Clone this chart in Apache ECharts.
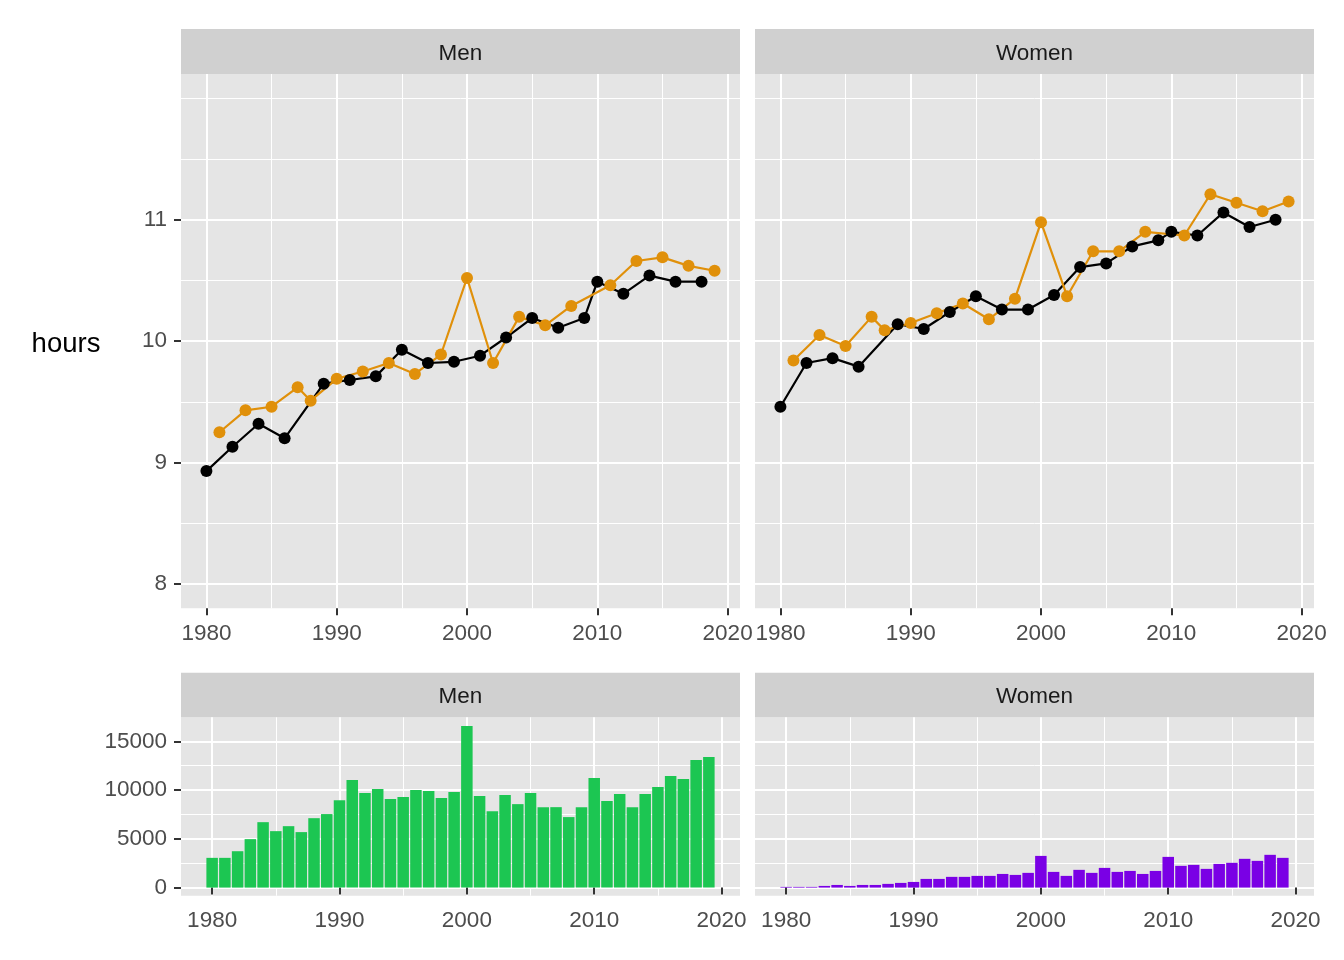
<!DOCTYPE html>
<html><head><meta charset="utf-8">
<script src="https://cdn.jsdelivr.net/npm/echarts@6/dist/echarts.min.js"></script>
<style>html,body{margin:0;padding:0;background:#fff}#c{width:1344px;height:960px}</style>
</head><body><div id="c"></div>
<script>
// ---------- data ----------
const panels = ['Men', 'Women'];
const yearsA = [1980,1982,1984,1986,1989,1991,1993,1995,1997,1999,2001,2003,2005,2007,2009,2010,2012,2014,2016,2018];
const yearsB = [1981,1983,1985,1987,1988,1990,1992,1994,1996,1998,2000,2002,2004,2006,2008,2011,2013,2015,2017,2019];
const menHoursA   = [8.93,9.13,9.32,9.20,9.65,9.68,9.71,9.93,9.82,9.83,9.88,10.03,10.19,10.11,10.19,10.49,10.39,10.54,10.49,10.49];
const menHoursB   = [9.25,9.43,9.46,9.62,9.51,9.69,9.75,9.82,9.73,9.89,10.52,9.82,10.20,10.13,10.29,10.46,10.66,10.69,10.62,10.58];
const womenHoursA = [9.46,9.82,9.86,9.79,10.14,10.10,10.24,10.37,10.26,10.26,10.38,10.61,10.64,10.78,10.83,10.90,10.87,11.06,10.94,11.00];
const womenHoursB = [9.84,10.05,9.96,10.20,10.09,10.15,10.23,10.31,10.18,10.35,10.98,10.37,10.74,10.74,10.90,10.87,11.21,11.14,11.07,11.15];
const barYears = [1980,1981,1982,1983,1984,1985,1986,1987,1988,1989,
                  1990,1991,1992,1993,1994,1995,1996,1997,1998,1999,
                  2000,2001,2002,2003,2004,2005,2006,2007,2008,2009,
                  2010,2011,2012,2013,2014,2015,2016,2017,2018,2019];
const menCounts = [3050,3050,3730,4970,6710,5790,6300,5690,7120,7540,
                   8970,11030,9690,10100,9080,9280,10000,9900,9180,9800,
                   16580,9390,7840,9490,8560,9690,8250,8250,7230,8250,
                   11230,8870,9590,8250,9590,10310,11440,11130,13080,13390];
const womenCounts = [70,70,70,170,270,170,270,270,380,480,
                     580,890,890,1100,1100,1200,1200,1400,1300,1510,
                     3250,1610,1200,1820,1510,2020,1610,1710,1400,1710,
                     3150,2230,2330,1920,2430,2540,2950,2740,3360,3050];
const xMajorTicks = [1980,1990,2000,2010,2020];
const xMinorTicks = [1985,1995,2005,2015];
const hoursMajorTicks = [8,9,10,11];
const hoursMinorTicks = [8.5,9.5,10.5,11.5,12];
const countMajorTicks = [0,5000,10000,15000];
const countMinorTicks = [2500,7500,12500];

// ---------- style ----------
const FONT = '"Liberation Sans", Arial, Helvetica, sans-serif';
const PANEL_BG = '#E5E5E5', STRIP_BG = '#D0D0D0';
const COL_A = '#000000', COL_B = '#E0900A';
const BAR_COLS = ['#1CC652', '#7A00E5'];

const gridBoxes = [
  {left:181, top:74, width:559, height:534.3},
  {left:755, top:74, width:559, height:534.3},
  {left:181, top:717.3, width:559, height:178.4},
  {left:755, top:717.3, width:559, height:178.4}
];
const xRangeTop = [1978.05, 2020.95], xRangeBot = [1977.555, 2021.445];
const yRangeTop = [7.8, 12.2], yRangeBot = [-832, 17466];

const grids = gridBoxes.map(b => Object.assign({show:true, backgroundColor:PANEL_BG, borderWidth:0, containLabel:false, outerBoundsMode:'none'}, b));

const xAxes = [], yAxes = [];
function addAxes(gi, xr, yr, yMaj, yMin, showY) {
  const lab = {fontSize:22.5, fontFamily:FONT, color:'#4D4D4D'};
  xAxes.push({type:'value', gridIndex:gi, min:xr[0], max:xr[1],
    axisLine:{show:false},
    axisTick:{show:true, length:7, customValues:xMajorTicks, lineStyle:{color:'#333333', width:2}},
    axisLabel:Object.assign({show:true, margin:14, customValues:xMajorTicks, formatter:v=>String(v)}, lab),
    splitLine:{show:true, lineStyle:{color:'#FFFFFF', width:2}}});
  xAxes.push({type:'value', gridIndex:gi, min:xr[0], max:xr[1],
    axisLine:{show:false}, axisTick:{show:false, customValues:xMinorTicks}, axisLabel:{show:false, customValues:xMinorTicks},
    splitLine:{show:true, lineStyle:{color:'#FFFFFF', width:1}}});
  yAxes.push({type:'value', gridIndex:gi, min:yr[0], max:yr[1],
    axisLine:{show:false},
    axisTick:{show:showY, length:7, customValues:yMaj, lineStyle:{color:'#333333', width:2}},
    axisLabel:Object.assign({show:showY, margin:14, customValues:yMaj, formatter:v=>String(v), padding:[3,0,0,0]}, lab),
    splitLine:{show:true, lineStyle:{color:'#FFFFFF', width:2}}});
  yAxes.push({type:'value', gridIndex:gi, min:yr[0], max:yr[1],
    axisLine:{show:false}, axisTick:{show:false, customValues:yMin}, axisLabel:{show:false, customValues:yMin},
    splitLine:{show:true, lineStyle:{color:'#FFFFFF', width:1}}});
}
addAxes(0, xRangeTop, yRangeTop, hoursMajorTicks, hoursMinorTicks, true);
addAxes(1, xRangeTop, yRangeTop, hoursMajorTicks, hoursMinorTicks, false);
addAxes(2, xRangeBot, yRangeBot, countMajorTicks, countMinorTicks, true);
addAxes(3, xRangeBot, yRangeBot, countMajorTicks, countMinorTicks, false);

const zip = (xs, ys) => xs.map((x, i) => [x, ys[i]]);
const series = [];
const hoursData = [[menHoursA, menHoursB], [womenHoursA, womenHoursB]];
hoursData.forEach((pair, pi) => {
  const ax = pi * 2;
  const sets = [[yearsA, pair[0], COL_A, 'A'], [yearsB, pair[1], COL_B, 'B']];
  sets.forEach(s => series.push({type:'line', name:panels[pi]+' '+s[3], xAxisIndex:ax, yAxisIndex:ax,
    data:zip(s[0], s[1]), showSymbol:false, symbol:'none', z:2, lineStyle:{color:s[2], width:2.2, opacity:1}, silent:true}));
  sets.forEach(s => series.push({type:'scatter', name:panels[pi]+' '+s[3]+' pts', xAxisIndex:ax, yAxisIndex:ax,
    data:zip(s[0], s[1]), symbol:'circle', symbolSize:12, z:3, itemStyle:{color:s[2], opacity:1, borderWidth:0}, silent:true}));
});
[menCounts, womenCounts].forEach((cnt, pi) => {
  const ax = (2 + pi) * 2;
  series.push({type:'bar', name:panels[pi]+' count', xAxisIndex:ax, yAxisIndex:ax,
    data:zip(barYears, cnt), barWidth:11.5, itemStyle:{color:BAR_COLS[pi], opacity:1}, z:2, silent:true});
});

const graphic = [];
gridBoxes.forEach((b, i) => {
  const top = i < 2 ? 29 : 672.7;
  const h = b.top - top;
  graphic.push({type:'rect', shape:{x:b.left, y:top, width:b.width, height:h}, style:{fill:STRIP_BG}, silent:true});
  graphic.push({type:'text', x:b.left + b.width/2, y:top + h/2 + 2,
    style:{text:panels[i % 2], fontSize:22.5, fontFamily:FONT, fill:'#1A1A1A', align:'center', verticalAlign:'middle', textAlign:'center', textVerticalAlign:'middle'}, silent:true});
});
graphic.push({type:'text', x:66, y:344.5,
  style:{text:'hours', fontSize:27.5, fontFamily:FONT, fill:'#000000', align:'center', verticalAlign:'middle', textAlign:'center', textVerticalAlign:'middle'}, silent:true});

const chart = echarts.init(document.getElementById('c'), null, {renderer:'canvas'});
chart.setOption({animation:false, backgroundColor:'#FFFFFF', grid:grids, xAxis:xAxes, yAxis:yAxes, series:series, graphic:graphic});
</script></body></html>
